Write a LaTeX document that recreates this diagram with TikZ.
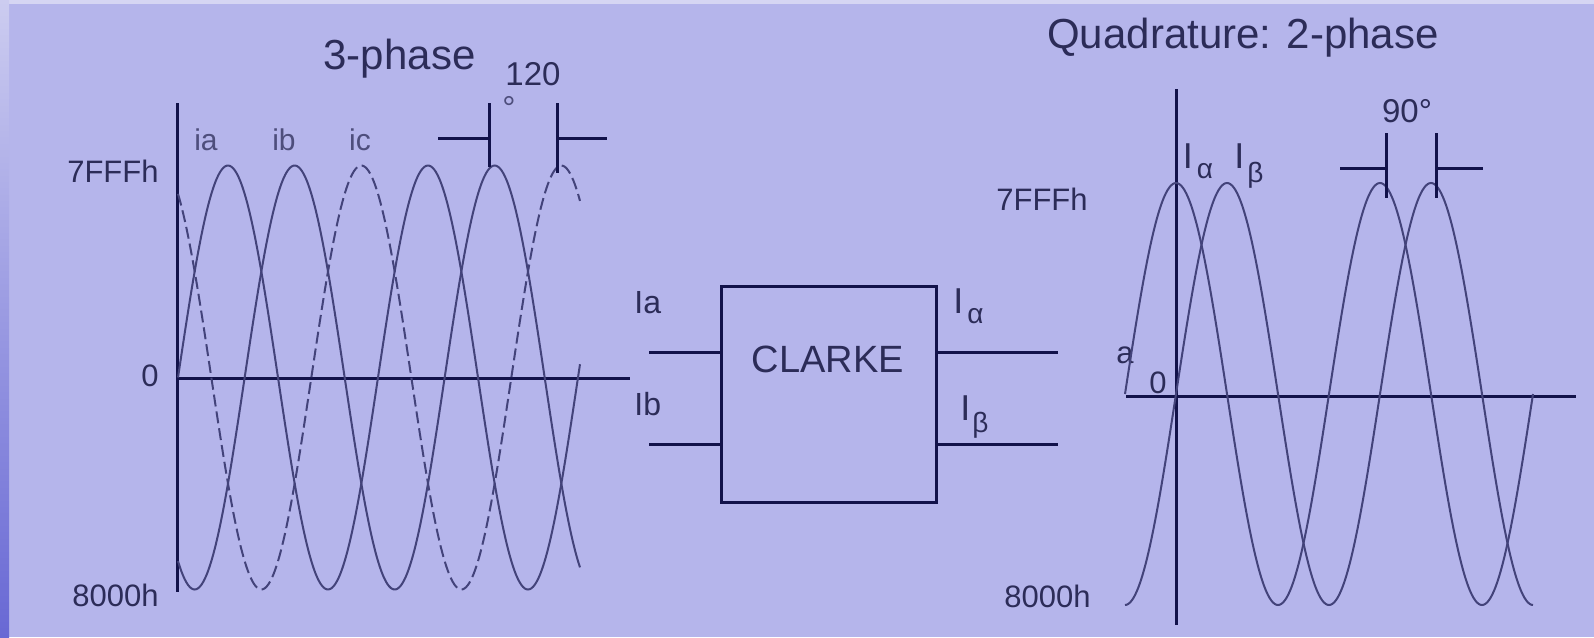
\documentclass[tikz,border=0pt]{standalone}
\usepackage{fontspec}
\setmainfont{Liberation Sans}
\definecolor{bg}{HTML}{B5B5EB}
\definecolor{ink}{HTML}{12124A}
\definecolor{txt}{HTML}{2C2C58}
\definecolor{txtgray}{HTML}{4E4E7C}
\definecolor{wave}{HTML}{43437A}
\definecolor{strip}{HTML}{D6D6F3}
\definecolor{edgetop}{HTML}{CCCCF0}
\definecolor{edgebot}{HTML}{6868D4}
\newcommand{\mysubI}[3]{I\kern#1\raisebox{#2}{\fontsize{14pt}{14pt}\selectfont #3}}
\tikzset{
  axisline/.style={ink, line width=1.5pt},
  wavesolid/.style={wave, line width=1pt},
  wavedash/.style={wave, line width=1pt, dash pattern=on 6pt off 2.5pt},
  ticklbl/.style={txt, inner sep=0pt, font=\fontsize{15.5pt}{16pt}\selectfont},
  curvelbl/.style={txtgray, inner sep=0pt, font=\fontsize{15pt}{16pt}\selectfont},
  ttl/.style={txt, inner sep=0pt, font=\fontsize{21pt}{22pt}\selectfont},
  anglelbl/.style={txt, inner sep=0pt, font=\fontsize{16.5pt}{17pt}\selectfont},
  sublbl/.style={txt, inner sep=0pt, anchor=base west, font=\fontsize{18pt}{18pt}\selectfont},
  wire/.style={ink, line width=1.5pt},
  dimline/.style={ink, line width=1.5pt},
  blockbox/.style={draw=ink, line width=1.5pt, minimum width=107.5pt, minimum height=108pt, inner sep=0pt},
}
\begin{document}
\begin{tikzpicture}[x=0.5pt,y=-0.5pt]
\useasboundingbox (0,0) rectangle (1594,637);
% background
\fill[bg] (0,0) rectangle (1594,637);
\fill[strip] (0,0) rectangle (1594,4);
\shade[top color=edgetop, bottom color=edgebot] (0,0) rectangle (9,637);

% ---------------- left: 3-phase ----------------
\node[ttl, anchor=base] (t3) at (399.5,69) {3-phase};
\node[anglelbl, anchor=base] (a120) at (533,85) {120};
\node[anglelbl, anchor=base, txtgray] (deg120) at (509,119) {°};

\draw[axisline] (177,103) -- (177,592);
\draw[axisline] (177,378) -- (630,378);

\node[ticklbl, anchor=base east] (l7fff) at (159,182) {7FFFh};
\node[ticklbl, anchor=base east] (l0) at (159,386) {0};
\node[ticklbl, anchor=base east] (l8000) at (159,606) {8000h};

\node[curvelbl, anchor=base] (lia) at (206,150) {ia};
\node[curvelbl, anchor=base] (lib) at (284,150) {ib};
\node[curvelbl, anchor=base] (lic) at (360,150) {ic};

\draw[wavesolid] plot[domain=178:580, samples=241, smooth] (\x,{377.5-212*sin(1.8*(\x-178))});
\draw[wavesolid] plot[domain=178:580, samples=241, smooth] (\x,{377.5-212*sin(1.8*(\x-178)-120)});
\draw[wavedash] plot[domain=178:580, samples=241, smooth] (\x,{377.5-212*sin(1.8*(\x-178)-240)});

\draw[dimline] (438,138) -- (489,138);
\draw[dimline] (489,103) -- (489,167);
\draw[dimline] (557,103) -- (557,173);
\draw[dimline] (557,138) -- (607,138);

% ---------------- middle: CLARKE block ----------------
\node[blockbox] (clarke) at (828.5,394) {};
\node[ttl, anchor=base, font=\fontsize{19pt}{20pt}\selectfont] (clarketxt) at (828,372) {CLARKE};
\coordinate (inA) at (649,352);
\coordinate (inB) at (649,444);
\coordinate (outA) at (1058,352);
\coordinate (outB) at (1058,444);
\draw[wire] (inA) -- (inA -| clarke.west);
\draw[wire] (inB) -- (inB -| clarke.west);
\draw[wire] (outA -| clarke.east) -- (outA);
\draw[wire] (outB -| clarke.east) -- (outB);
\node[ticklbl, anchor=base west, font=\fontsize{16pt}{16pt}\selectfont] (lIa) at (634,313) {Ia};
\node[ticklbl, anchor=base west, font=\fontsize{16pt}{16pt}\selectfont] (lIb) at (634,415) {Ib};
\node[sublbl] (oIal) at (953,313) {\mysubI{2pt}{-5pt}{α}};
\node[sublbl] (oIbe) at (960,420) {\mysubI{1pt}{-6pt}{β}};

% ---------------- right: quadrature ----------------
\node[ttl, anchor=base] (tq) at (1243,48) {Quadrature: 2-phase};
\node[anglelbl, anchor=base] (a90) at (1407,122) {90°};

\draw[axisline] (1176,89) -- (1176,625);
\draw[axisline] (1126,396) -- (1576,396);

\node[ticklbl, anchor=base east] (r7fff) at (1088,210) {7FFFh};
\node[ticklbl, anchor=base east] (r8000) at (1091,607) {8000h};
\node[ticklbl, anchor=base] (r0) at (1158,393) {0};
\node[ticklbl, anchor=base] (ra) at (1125,363) {a};

\node[sublbl] (rIal) at (1182.5,168) {\mysubI{2pt}{-5pt}{α}};
\node[sublbl] (rIbe) at (1234,168) {\mysubI{1.5pt}{-7pt}{β}};

\draw[wavesolid] plot[domain=1125:1533, samples=241, smooth] (\x,{394-211*sin(1.7647*(\x-1125))});
\draw[wavesolid] plot[domain=1125:1533, samples=241, smooth] (\x,{394+211*cos(1.7647*(\x-1125))});

\draw[dimline] (1340,168) -- (1386,168);
\draw[dimline] (1386,133) -- (1386,198);
\draw[dimline] (1436,133) -- (1436,198);
\draw[dimline] (1436,168) -- (1483,168);
\end{tikzpicture}
\end{document}
